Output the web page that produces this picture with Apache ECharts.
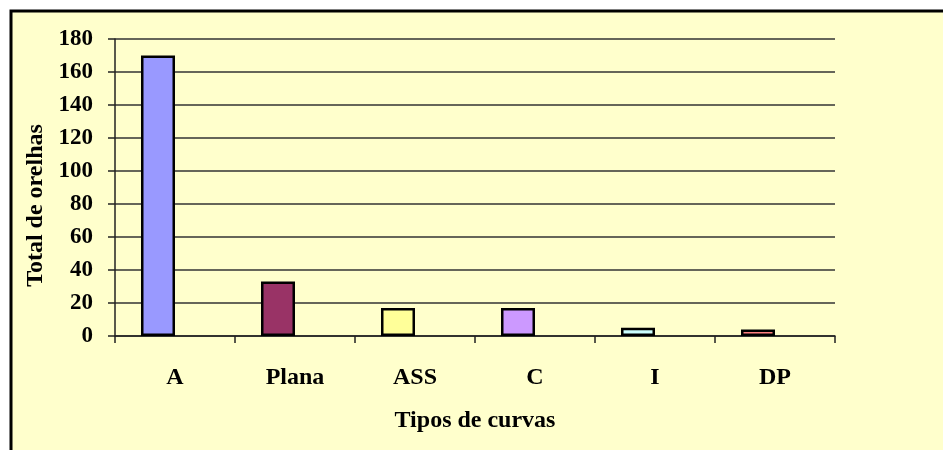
<!DOCTYPE html>
<html>
<head>
<meta charset="utf-8">
<script src="https://cdn.jsdelivr.net/npm/echarts@6/dist/echarts.min.js"></script>
<style>
html,body{margin:0;padding:0;background:#fff;}
#chart{width:943px;height:450px;}
</style>
</head>
<body>
<div id="chart"></div>
<script>
const categories = ['A', 'Plana', 'ASS', 'C', 'I', 'DP'];
const values = [170, 33, 17, 17, 5, 4];
const barColors = ['#9999FF', '#993366', '#FFFF99', '#CC99FF', '#CCFFFF', '#FF8080'];
const yTicks = [0, 20, 40, 60, 80, 100, 120, 140, 160, 180];

const font = 'Liberation Serif, Times New Roman, serif';
const chart = echarts.init(document.getElementById('chart'), null, {renderer: 'canvas'});
chart.setOption({
  animation: false,
  backgroundColor: '#fff',
  graphic: [{
    type: 'rect', z: -10, silent: true,
    shape: {x: 11, y: 11, width: 1000, height: 500},
    style: {fill: '#FFFFCC', stroke: '#000', lineWidth: 3}
  }],
  grid: {left: 115, right: 108, top: 39, bottom: 114, containLabel: false},
  xAxis: {
    type: 'category',
    data: categories,
    name: 'Tipos de curvas',
    nameLocation: 'middle',
    nameGap: 73,
    nameTextStyle: {fontFamily: font, fontWeight: 'bold', fontSize: 24, color: '#000'},
    axisLine: {lineStyle: {color: '#222', width: 1.5}},
    axisTick: {show: true, length: 7, lineStyle: {color: '#222', width: 1.5}},
    axisLabel: {margin: 30, fontFamily: font, fontWeight: 'bold', fontSize: 24, color: '#000'}
  },
  yAxis: {
    type: 'value',
    min: yTicks[0], max: yTicks[yTicks.length - 1], interval: 20,
    name: 'Total de orelhas',
    nameLocation: 'middle',
    nameGap: 65,
    nameTextStyle: {fontFamily: font, fontWeight: 'bold', fontSize: 24, color: '#000', padding: [0, 0, 0, -36]},
    axisLine: {show: true, lineStyle: {color: '#222', width: 1.5}},
    axisTick: {show: true, length: 7, lineStyle: {color: '#222', width: 1.5}},
    splitLine: {show: true, lineStyle: {color: '#333', width: 1.5}},
    axisLabel: {margin: 22, fontFamily: font, fontWeight: 'bold', fontSize: 23, color: '#000'}
  },
  series: [{
    type: 'bar',
    barWidth: 34,
    barGap: '0%',
    data: values.map((v, i) => ({value: v, itemStyle: {color: barColors[i]}})),
    itemStyle: {borderColor: '#000', borderWidth: 2.5}
  }, {
    type: 'bar',
    barWidth: 34,
    data: categories.map(() => '-')
  }]
});
</script>
</body>
</html>
